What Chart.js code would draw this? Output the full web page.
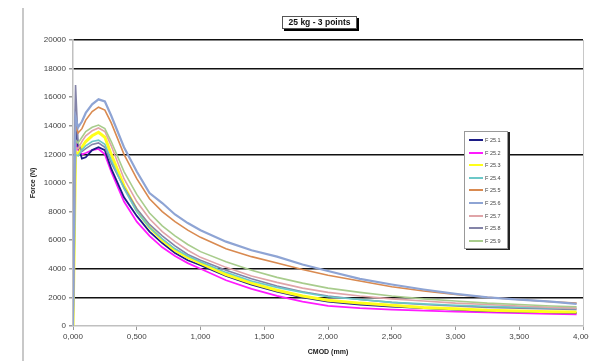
<!DOCTYPE html>
<html>
<head>
<meta charset="utf-8">
<script src="https://cdn.jsdelivr.net/npm/chart.js@4/dist/chart.umd.min.js"></script>
<style>
  body { margin: 0; background: #fff; }
  #wrap { position: relative; width: 589px; height: 361px; }
  #sideline { position: absolute; left: 22px; top: 8px; width: 0; height: 353px; border-left: 2px solid #c8c8c8; }
  #title { position: absolute; left: 282px; top: 16px; width: 73px; height: 11px; border: 1px solid #555;
           box-shadow: 2px 2px 0 #000; background: #fff; font: bold 8.5px "Liberation Sans", Arial, sans-serif;
           line-height: 11px; text-align: center; color: #111; }
  #legend { position: absolute; left: 464px; top: 131px; width: 42px; height: 116px; border: 1px solid #999;
            box-shadow: 2px 1px 0 #222; background: #fff; font: 5.5px "Liberation Sans", Arial, sans-serif; color: #444; }
  .row { position: absolute; left: 3px; height: 8px; }
  .sw { position: absolute; left: 1px; top: 3px; width: 14px; height: 2px; }
  .lb { position: absolute; left: 17px; top: 0; white-space: nowrap; line-height: 8px; }
</style>
</head>
<body>
<div id="wrap">
  <canvas id="cmod-chart" width="589" height="361"></canvas>
  <div id="sideline"></div>
  <div id="title">25 kg - 3 points</div>
  <div id="legend"></div>
</div>
<script>
// CMOD (mm) sample positions shared by all specimens
const cmod = [0, 0.01, 0.02, 0.04, 0.07, 0.1, 0.15, 0.2, 0.25, 0.3, 0.4, 0.5, 0.6, 0.7, 0.8, 0.9, 1.0,
              1.2, 1.4, 1.6, 1.8, 2.0, 2.25, 2.5, 2.75, 3.0, 3.25, 3.5, 3.75, 3.95];

const names = ["F 25.1", "F 25.2", "F 25.3", "F 25.4", "F 25.5", "F 25.6", "F 25.7", "F 25.8", "F 25.9"];
const colors = ["#1c1c86", "#ff1aff", "#ffff1a", "#6cc8c8", "#d98a50", "#8ea4d4", "#e0a4a8", "#8484a8", "#a8cc8c"];
const widths = [1.8, 1.8, 3, 1.6, 1.6, 2.2, 1.6, 1.6, 1.6];

// force (N)
const f25_1 = [0, 7000, 14000, 12600, 11700, 11800, 12300, 12500, 12300, 11000, 9000, 7700, 6600, 5800, 5100, 4600, 4250,
               3500, 2900, 2400, 2000, 1700, 1500, 1350, 1250, 1150, 1050, 1000, 950, 920];
const f25_2 = [0, 6000, 12800, 12300, 12000, 12100, 12300, 12380, 12000, 10800, 8700, 7300, 6300, 5500, 4900, 4400, 4000,
               3200, 2600, 2100, 1700, 1400, 1250, 1150, 1070, 1000, 950, 900, 850, 820];
const f25_3 = [0, 6000, 12200, 12000, 12500, 12900, 13300, 13550, 13200, 12000, 9800, 8100, 6900, 6000, 5300, 4800, 4400,
               3600, 3000, 2500, 2100, 1800, 1600, 1450, 1300, 1200, 1100, 1050, 1000, 980];
const f25_4 = [0, 5000, 12000, 11900, 12300, 12600, 12900, 13000, 12700, 11600, 9600, 8000, 6900, 6100, 5400, 4900, 4500,
               3750, 3150, 2700, 2350, 2050, 1850, 1650, 1550, 1450, 1380, 1320, 1270, 1220];
const f25_5 = [0, 8000, 14000, 13500, 13800, 14400, 15000, 15300, 15100, 14200, 12000, 10300, 8900, 8000, 7300, 6700, 6200,
               5400, 4850, 4400, 3950, 3550, 3150, 2750, 2450, 2200, 2000, 1850, 1700, 1600];
const f25_6 = [0, 9000, 14600, 13900, 14300, 14900, 15500, 15850, 15700, 14700, 12500, 10800, 9300, 8600, 7800, 7200, 6700,
               5900, 5300, 4850, 4300, 3850, 3300, 2900, 2550, 2250, 2000, 1850, 1700, 1550];
const f25_7 = [0, 6000, 12500, 12400, 12900, 13300, 13650, 13850, 13600, 12600, 10300, 8700, 7500, 6600, 5900, 5300, 4800,
               4100, 3500, 3050, 2650, 2350, 2100, 1900, 1750, 1600, 1500, 1400, 1300, 1250];
const f25_8 = [0, 12000, 16850, 12800, 12200, 12400, 12700, 12800, 12500, 11400, 9700, 8200, 7100, 6300, 5600, 5000, 4600,
               3900, 3300, 2800, 2400, 2100, 1850, 1650, 1500, 1400, 1300, 1250, 1200, 1150];
const f25_9 = [0, 7000, 13000, 12800, 13200, 13600, 13900, 14050, 13800, 12900, 10800, 9200, 7900, 7000, 6300, 5700, 5200,
               4500, 3900, 3400, 3000, 2650, 2350, 2100, 1900, 1750, 1600, 1500, 1400, 1350];

const series = [f25_1, f25_2, f25_3, f25_4, f25_5, f25_6, f25_7, f25_8, f25_9];
const gridValues = [2000, 4000, 12000, 18000, 20000];

// draw order: lowest curves on top like the original
const order = [5, 4, 8, 6, 3, 7, 2, 0, 1];
const datasets = order.map(i => ({
  label: names[i],
  data: cmod.map((x, k) => ({ x: x, y: series[i][k] })),
  borderColor: colors[i],
  backgroundColor: colors[i],
  borderWidth: widths[i],
  pointRadius: 0,
  tension: 0
}));

const font = { family: '"Liberation Sans", Arial, sans-serif', size: 8 };

const frame = {
  id: 'frame',
  beforeDatasetsDraw(chart) {
    const a = chart.chartArea, c = chart.ctx;
    c.save();
    c.strokeStyle = '#c8c8c8';
    c.lineWidth = 1;
    c.beginPath();
    c.moveTo(a.right + 0.5, a.top);
    c.lineTo(a.right + 0.5, a.bottom);
    c.stroke();
    c.restore();
  }
};

new Chart(document.getElementById('cmod-chart'), {
  type: 'line',
  data: { datasets: datasets },
  options: {
    responsive: false,
    animation: false,
    layout: { padding: { left: 25, top: 40, right: 6, bottom: 0 } },
    plugins: { legend: { display: false }, tooltip: { enabled: false } },
    scales: {
      x: {
        type: 'linear', min: 0, max: 4,
        ticks: { stepSize: 0.5, font: font, color: '#444', padding: 2, maxRotation: 0,
                 callback: v => v.toFixed(3).replace('.', ',') },
        grid: { drawOnChartArea: false, tickLength: 4, color: '#999' },
        border: { color: '#c0c0c0', width: 1.5 },
        title: { display: true, text: 'CMOD (mm)', font: { family: font.family, size: 7, weight: 'bold' },
                 color: '#222', padding: { top: 0, bottom: 5 } },
        afterFit: s => { s.height = 35; s.paddingRight = 0; s.paddingLeft = 0; }
      },
      y: {
        min: 0, max: 20000,
        ticks: { stepSize: 2000, font: font, color: '#444', padding: 3, callback: v => String(v) },
        grid: {
          tickLength: 4, tickColor: '#999',
          color: ctx => gridValues.includes(ctx.tick.value) ? '#111' : 'rgba(0,0,0,0)',
          lineWidth: 1.5
        },
        border: { color: '#c0c0c0', width: 1.5 },
        title: { display: true, text: 'Force (N)', font: { family: font.family, size: 7, weight: 'bold' },
                 color: '#222', padding: { top: 4, bottom: 0 } },
        afterFit: s => { s.width = 48; }
      }
    }
  },
  plugins: [frame]
});

// legend box
const legend = document.getElementById('legend');
names.forEach((n, i) => {
  const row = document.createElement('div');
  row.className = 'row';
  row.style.top = (4 + i * 12.6) + 'px';
  row.innerHTML = '<div class="sw" style="background:' + colors[i] + '"></div><div class="lb">' + n + '</div>';
  legend.appendChild(row);
});
</script>
</body>
</html>
